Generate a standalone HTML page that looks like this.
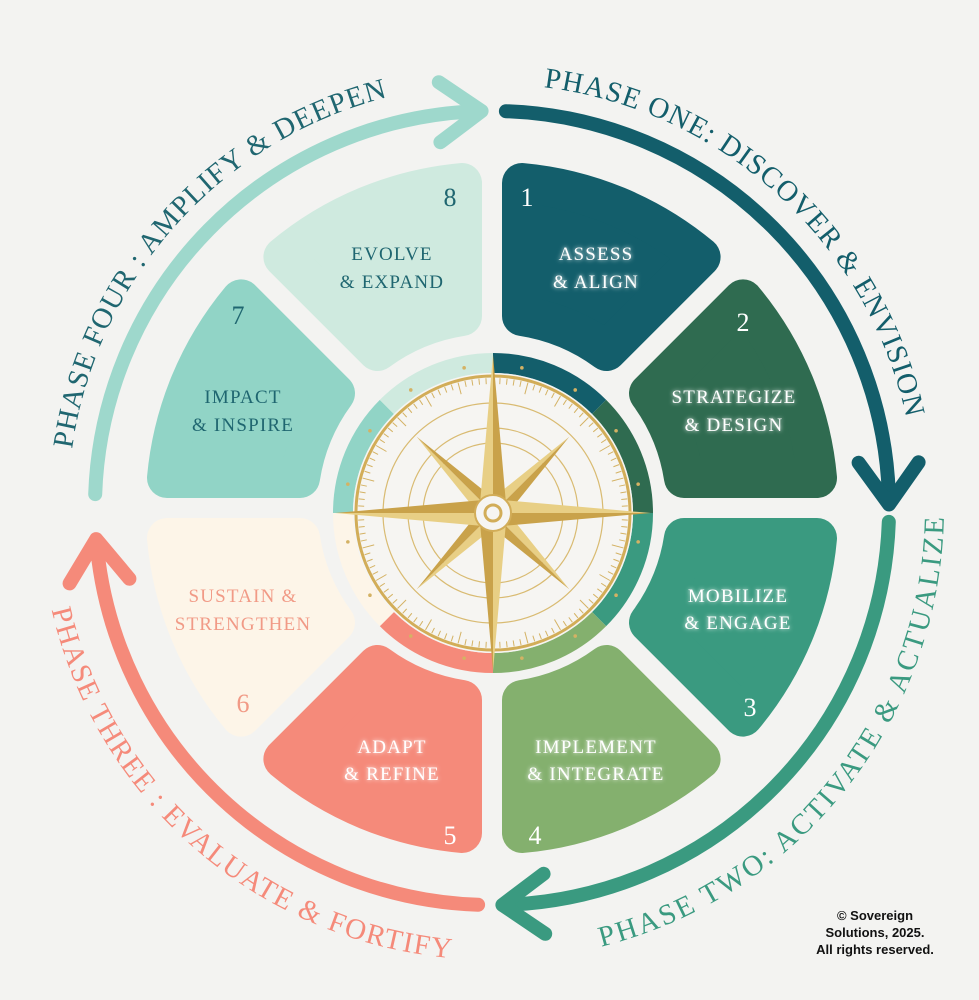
<!DOCTYPE html>
<html><head><meta charset="utf-8"><style>
html,body{margin:0;padding:0;background:#f3f3f1;}
svg{display:block}
.lab{font-family:"Liberation Serif",serif;font-size:19px;letter-spacing:1.2px;text-anchor:middle}
.num{font-family:"Liberation Serif",serif;font-size:26px;text-anchor:middle}
.ph{font-family:"Liberation Serif",serif;font-size:29px;letter-spacing:2px}
.w{fill:#fff}
</style></head><body>
<svg id="s" width="979" height="1000" viewBox="0 0 979 1000" xmlns="http://www.w3.org/2000/svg">
<defs>
<filter id="glow" x="-20%" y="-50%" width="140%" height="200%"><feGaussianBlur stdDeviation="2" result="b"/><feMerge><feMergeNode in="b"/><feMergeNode in="SourceGraphic"/></feMerge></filter>
</defs>
<rect width="979" height="1000" fill="#f3f3f1"/>
<g id="segs"></g>
<g id="ring"></g>
<g id="arcs"></g>
<g id="compass"></g>
<path id="t1" fill="none" d=""/><path id="t2" fill="none" d=""/><path id="t3" fill="none" d=""/><path id="t4" fill="none" d=""/>
<text class="ph" fill="#135e6b"><textPath href="#t1" id="tp1">PHASE ONE: DISCOVER &amp; ENVISION</textPath></text>
<text class="ph" fill="#3a9a80"><textPath href="#t2" id="tp2">PHASE TWO: ACTIVATE &amp; ACTUALIZE</textPath></text>
<text class="ph" fill="#f58a7a"><textPath href="#t3" id="tp3">PHASE THREE : EVALUATE &amp; FORTIFY</textPath></text>
<text class="ph" fill="#1f6670"><textPath href="#t4" id="tp4">PHASE FOUR : AMPLIFY &amp; DEEPEN</textPath></text>

<g filter="url(#glow)">
<text class="lab w" x="596" y="260">ASSESS</text><text class="lab w" x="596" y="288">&amp; ALIGN</text>
<text class="lab w" x="734" y="403">STRATEGIZE</text><text class="lab w" x="734" y="431">&amp; DESIGN</text>
<text class="lab w" x="738" y="602">MOBILIZE</text><text class="lab w" x="738" y="629">&amp; ENGAGE</text>
<text class="lab w" x="596" y="753">IMPLEMENT</text><text class="lab w" x="596" y="780">&amp; INTEGRATE</text>
<text class="lab w" x="392" y="753">ADAPT</text><text class="lab w" x="392" y="780">&amp; REFINE</text>
</g>
<text class="lab" fill="#f19a86" x="243" y="602">SUSTAIN &amp;</text><text class="lab" fill="#f19a86" x="243" y="630">STRENGTHEN</text>
<text class="lab" fill="#1f6670" x="243" y="403">IMPACT</text><text class="lab" fill="#1f6670" x="243" y="431">&amp; INSPIRE</text>
<text class="lab" fill="#1f6670" x="392" y="260">EVOLVE</text><text class="lab" fill="#1f6670" x="392" y="288">&amp; EXPAND</text>

<text class="num w" x="527" y="206">1</text>
<text class="num w" x="743" y="331">2</text>
<text class="num w" x="750" y="716">3</text>
<text class="num w" x="535" y="844">4</text>
<text class="num w" x="450" y="844">5</text>
<text class="num" fill="#f19a86" x="243" y="712">6</text>
<text class="num" fill="#1f6670" x="238" y="324">7</text>
<text class="num" fill="#1f6670" x="450" y="206">8</text>

<g font-family="Liberation Sans, sans-serif" font-weight="bold" font-size="13" text-anchor="middle" fill="#111">
<text x="875" y="920">© Sovereign</text><text x="875" y="937">Solutions, 2025.</text><text x="875" y="954">All rights reserved.</text>
</g>
</svg>
<script>
var NS="http://www.w3.org/2000/svg",cx=492,cy=508;
function P(r,t){t=t*Math.PI/180;return [cx+r*Math.sin(t),cy-r*Math.cos(t)];}
function el(n,a,p){var e=document.createElementNS(NS,n);for(var k in a)e.setAttribute(k,a[k]);p.appendChild(e);return e;}
function f(p){return p[0].toFixed(1)+","+p[1].toFixed(1);}
var cols=["#135e6b","#2f6b50","#3a9a80","#84b06e","#f58a7a","#fdf5e8","#91d4c6","#cfeadf"];
var segs=document.getElementById("segs");
var rO=325,rI=192,d=30;
for(var i=0;i<8;i++){var a0=i*45,a1=a0+45;
 var r0=a0*Math.PI/180,r1=a1*Math.PI/180;
 var p0=[Math.cos(r0),Math.sin(r0)],p1=[Math.cos(r1),Math.sin(r1)];
 function off(p,pp,s){return [p[0]+s*d*pp[0],p[1]+s*d*pp[1]];}
 var A=off(P(rO,a0),p0,1),B=off(P(rO,a1),p1,-1),C=off(P(rI,a1),p1,-1),D=off(P(rI,a0),p0,1);
 var dd="M"+f(A)+" A"+rO+","+rO+" 0 0 1 "+f(B)+" L"+f(C)+" A"+rI+","+rI+" 0 0 0 "+f(D)+"Z";
 el("path",{d:dd,fill:cols[i],stroke:cols[i],"stroke-width":40,"stroke-linejoin":"round"},segs);
}
var ccx=493,ccy=513;
function Q(r,t){t=t*Math.PI/180;return [ccx+r*Math.sin(t),ccy-r*Math.cos(t)];}
var ring=document.getElementById("ring");
for(var i=0;i<8;i++){var a=Q(150,i*45),b=Q(150,i*45+45);
 el("path",{d:"M"+f(a)+" A150,150 0 0 1 "+f(b),fill:"none",stroke:cols[i],"stroke-width":20},ring);}
var c=document.getElementById("compass");
el("circle",{cx:ccx,cy:ccy,r:140,fill:"#f6f5f2"},c);
el("circle",{cx:ccx,cy:ccy,r:137,fill:"none",stroke:"#d2ad58","stroke-width":3},c);
[110,85,70].forEach(function(r){el("circle",{cx:ccx,cy:ccy,r:r,fill:"none",stroke:"#d9bb72","stroke-width":1.2},c);});
for(var t=0;t<360;t+=3){var L=(t%15==0)?12:6;el("line",{x1:Q(135,t)[0],y1:Q(135,t)[1],x2:Q(135-L,t)[0],y2:Q(135-L,t)[1],stroke:"#d4b264","stroke-width":1},c);}
for(var t=11.25;t<360;t+=22.5){var p=Q(148,t);el("circle",{cx:p[0],cy:p[1],r:1.8,fill:"#d4b264"},c);}
function pt(len,t,w){var tip=Q(len,t),l=Q(w,t-45),r=Q(w,t+45),o=[ccx,ccy];
 el("path",{d:"M"+f(o)+"L"+f(l)+"L"+f(tip)+"Z",fill:"#e8cf85"},c);
 el("path",{d:"M"+f(o)+"L"+f(r)+"L"+f(tip)+"Z",fill:"#c9a24a"},c);}
[45,135,225,315].forEach(function(t){pt(108,t,15);});
[0,90,180,270].forEach(function(t){pt(158,t,18);});
el("circle",{cx:ccx,cy:ccy,r:18,fill:"#f6f5f2",stroke:"#d2ad58","stroke-width":2},c);
el("circle",{cx:ccx,cy:ccy,r:8,fill:"#f6f5f2",stroke:"#d2ad58","stroke-width":3},c);
var arcs=document.getElementById("arcs"),R=397;
function tang(t){t=t*Math.PI/180;return [Math.cos(t),Math.sin(t)];}
function arrow(t0,t1,col){var a=P(R,t0),b=P(R,t1);
 el("path",{d:"M"+f(a)+" A"+R+","+R+" 0 0 1 "+f(b),fill:"none",stroke:col,"stroke-width":14,"stroke-linecap":"round"},arcs);
 var tip=P(R,t1+1.5),tg=tang(t1+1.5),n=[Math.sin((t1+1.5)*Math.PI/180),-Math.cos((t1+1.5)*Math.PI/180)];
 var w1=[tip[0]-tg[0]*42+n[0]*30,tip[1]-tg[1]*42+n[1]*30],w2=[tip[0]-tg[0]*42-n[0]*30,tip[1]-tg[1]*42-n[1]*30];
 el("path",{d:"M"+f(w1)+"L"+f(tip)+"L"+f(w2),fill:"none",stroke:col,"stroke-width":14,"stroke-linecap":"round","stroke-linejoin":"round"},arcs);}
arrow(2,88,"#135e6b");arrow(92,177,"#3a9a80");arrow(182,264,"#f58a7a");arrow(272,357,"#9ed8cc");
function setArc(id,r,t0,t1,sweep){var a=P(r,t0),b=P(r,t1);document.getElementById(id).setAttribute("d","M"+f(a)+" A"+r+","+r+" 0 0 "+sweep+" "+f(b));}
setArc("t1",424,7,78,1);setArc("t4",424,-82,-14,1);
setArc("t2",452,166,91,0);setArc("t3",452,257,185,0);
function fit(id,t0,t1,r){var len=Math.abs(t1-t0)*Math.PI/180*r;var e=document.getElementById(id);e.setAttribute("textLength",len.toFixed(0));e.setAttribute("lengthAdjust","spacing");}
fit("tp1",7,78,424);fit("tp4",-82,-14,424);fit("tp2",166,91,452);fit("tp3",257,185,452);
</script>
</body></html>
